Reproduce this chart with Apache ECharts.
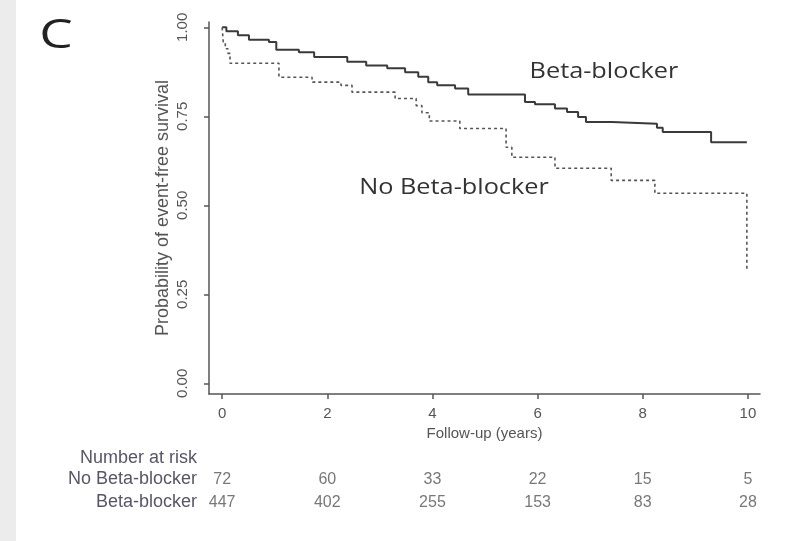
<!DOCTYPE html>
<html>
<head>
<meta charset="utf-8">
<script src="https://cdn.jsdelivr.net/npm/echarts@6/dist/echarts.min.js"></script>
<style>
  html, body { margin: 0; padding: 0; background: #fff; }
  #km { width: 796px; height: 541px; }
</style>
</head>
<body>
<div id="km"></div>
<script>
// Kaplan-Meier steps (years, survival)
var bbTimes = [0, 0.08, 0.30, 0.51, 0.89, 1.03, 1.46, 1.75, 2.38, 2.74, 3.14, 3.48, 3.73, 3.92, 4.09, 4.43, 4.68, 5.76, 5.95, 6.33, 6.56, 6.77, 6.92, 7.41, 8.27, 8.38, 9.30, 9.98];
var bbSurv  = [1.0, 0.989, 0.978, 0.965, 0.959, 0.937, 0.930, 0.917, 0.903, 0.893, 0.885, 0.874, 0.861, 0.846, 0.837, 0.828, 0.811, 0.790, 0.784, 0.772, 0.762, 0.748, 0.734, 0.729, 0.718, 0.706, 0.677, 0.677];

var nbbTimes = [0, 0.02, 0.06, 0.11, 0.15, 1.08, 1.71, 2.26, 2.47, 3.29, 3.69, 3.80, 3.94, 4.52, 5.40, 5.51, 6.33, 7.40, 8.23, 9.98];
var nbbSurv  = [1.0, 0.960, 0.940, 0.927, 0.899, 0.860, 0.846, 0.837, 0.818, 0.800, 0.780, 0.760, 0.737, 0.716, 0.663, 0.635, 0.604, 0.570, 0.534, 0.320];

// number at risk table
var riskTimes = [0, 2, 4, 6, 8, 10];
var riskNbb = [72, 60, 33, 22, 15, 5];
var riskBb  = [447, 402, 255, 153, 83, 28];
var rowNames = ['No Beta-blocker', 'Beta-blocker'];

var xTicks = [0, 2, 4, 6, 8, 10];
var yTicks = [0, 0.25, 0.5, 0.75, 1];

function zip(a, b) {
    var out = [];
    for (var i = 0; i < a.length; i++) out.push([a[i], b[i]]);
    return out;
}

var riskData = [];
for (var i = 0; i < riskTimes.length; i++) {
    riskData.push([riskTimes[i], rowNames[0], riskNbb[i]]);
    riskData.push([riskTimes[i], rowNames[1], riskBb[i]]);
}

var txt = '#555';
var rowCol = '#5a5566';
var font = 'Liberation Sans, Arial, sans-serif';
var sans2 = 'Open Sans, sans-serif';

var chart = echarts.init(document.getElementById('km'));

var option = {
    animation: false,
    backgroundColor: '#fff',
    graphic: [
        { type: 'rect', left: 0, top: 0, shape: { width: 16, height: 541 }, style: { fill: '#ececec' } },
        { type: 'text', x: 56, y: 36, scaleX: 1.3,
          style: { text: 'C', fontSize: 41, fontFamily: sans2, fill: '#222', align: 'center', verticalAlign: 'middle' } },
        { type: 'text', x: 604, y: 72, scaleX: 1.15,
          style: { text: 'Beta-blocker', fontSize: 22, fontFamily: sans2, fill: '#333', align: 'center', verticalAlign: 'middle' } },
        { type: 'text', x: 454, y: 188, scaleX: 1.15,
          style: { text: 'No Beta-blocker', fontSize: 22, fontFamily: sans2, fill: '#333', align: 'center', verticalAlign: 'middle' } },
        { type: 'text', x: 197, y: 458,
          style: { text: 'Number at risk', fontSize: 18, fontFamily: font, fill: rowCol, align: 'right', verticalAlign: 'middle' } }
    ],
    grid: [
        { left: 209, right: 36, top: 22, bottom: 147 },
        { left: 209, right: 36, top: 468, height: 46 }
    ],
    xAxis: [
        {
            type: 'value', gridIndex: 0, min: -0.25, max: 10.23,
            name: 'Follow-up (years)', nameLocation: 'middle', nameGap: 32, nameMoveOverlap: false,
            nameTextStyle: { color: txt, fontSize: 15, fontFamily: font },
            axisLine: { onZero: false, lineStyle: { color: '#555', width: 1.5 } },
            axisTick: { show: true, length: 5, customValues: xTicks, lineStyle: { color: '#555', width: 1.5 } },
            axisLabel: { customValues: xTicks, margin: 12, color: txt, fontSize: 15, fontFamily: font },
            splitLine: { show: false }
        },
        {
            type: 'value', gridIndex: 1, min: -0.25, max: 10.23, show: false
        }
    ],
    yAxis: [
        {
            type: 'value', gridIndex: 0, min: -0.03, max: 1.015,
            name: 'Probability of event-free survival', nameLocation: 'middle', nameGap: 37, nameMoveOverlap: false,
            nameTextStyle: { color: txt, fontSize: 18, fontFamily: font },
            axisLine: { show: true, onZero: false, lineStyle: { color: '#555', width: 1.5 } },
            axisTick: { show: true, length: 5, customValues: yTicks, lineStyle: { color: '#555', width: 1.5 } },
            axisLabel: {
                customValues: yTicks, rotate: 90, margin: 19, color: txt, fontSize: 15, fontFamily: font,
                formatter: function (v) { return v.toFixed(2); }
            },
            splitLine: { show: false }
        },
        {
            type: 'category', gridIndex: 1, data: rowNames, inverse: true,
            axisLine: { show: false }, axisTick: { show: false },
            axisLabel: { interval: 0, margin: 12, color: rowCol, fontSize: 18, fontFamily: font }
        }
    ],
    series: [
        {
            name: 'Beta-blocker', type: 'line', step: 'end', symbol: 'none',
            xAxisIndex: 0, yAxisIndex: 0,
            lineStyle: { color: '#3a3a3a', width: 2 },
            data: zip(bbTimes, bbSurv)
        },
        {
            name: 'No Beta-blocker', type: 'line', step: 'end', symbol: 'none',
            xAxisIndex: 0, yAxisIndex: 0,
            lineStyle: { color: '#555', width: 1.6, type: [3, 3] },
            data: zip(nbbTimes, nbbSurv)
        },
        {
            name: 'at risk', type: 'scatter', xAxisIndex: 1, yAxisIndex: 1,
            symbolSize: 1, itemStyle: { color: 'rgba(0,0,0,0)' },
            label: {
                show: true, position: 'inside', color: txt, fontSize: 16, fontFamily: font,
                formatter: function (p) { return p.value[2]; }
            },
            data: riskData
        }
    ]
};

chart.setOption(option);
</script>
</body>
</html>
